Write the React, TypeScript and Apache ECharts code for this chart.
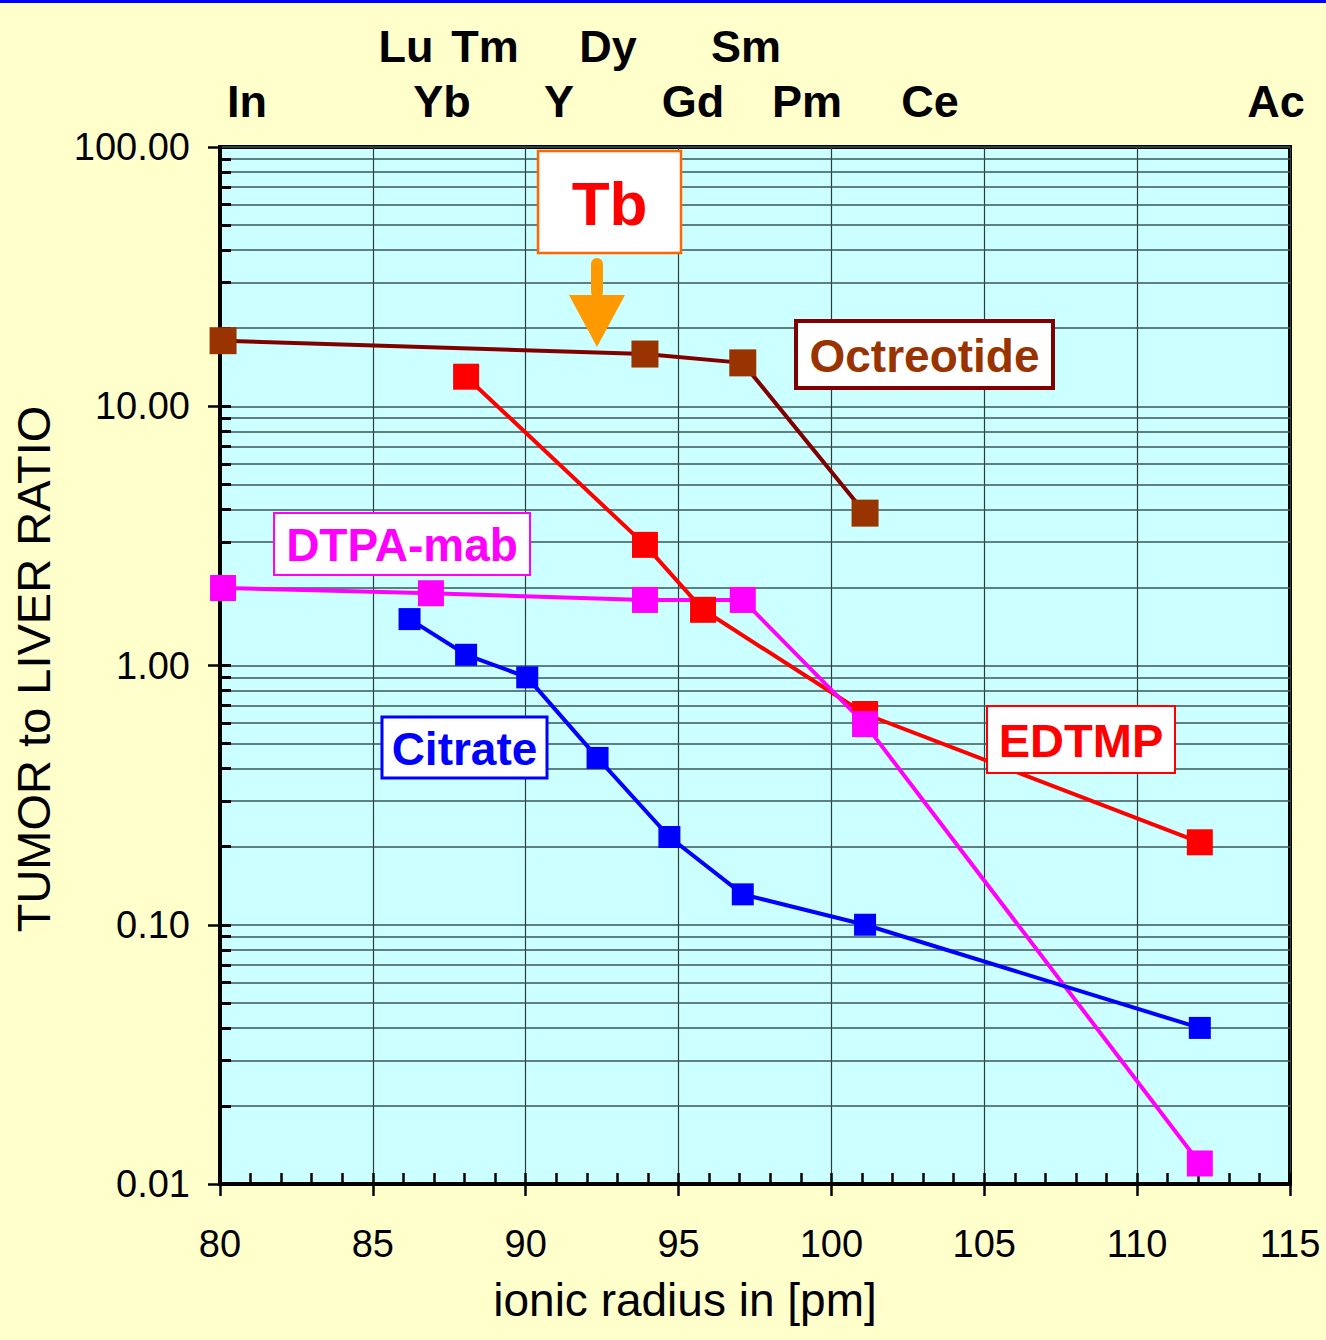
import React, { useEffect, useRef } from 'react';
import * as echarts from 'echarts';

// ---- Data (ionic radius in pm, tumor-to-liver ratio) ----
const octreotideX = [80.1, 93.9, 97.1, 101.1];
const octreotideY = [17.9, 15.9, 14.7, 3.87];

const edtmpX = [88.05, 93.9, 95.8, 101.1, 112.05];
const edtmpY = [13.0, 2.92, 1.64, 0.65, 0.208];

const dtpaX = [80.1, 86.9, 93.9, 97.1, 101.1, 112.05];
const dtpaY = [1.99, 1.9, 1.79, 1.79, 0.594, 0.012];

const citrateX = [86.2, 88.05, 90.05, 92.35, 94.7, 97.1, 101.1, 112.05];
const citrateY = [1.51, 1.1, 0.9, 0.44, 0.218, 0.131, 0.1, 0.04];

const seriesNames = ['Octreotide', 'EDTMP', 'DTPA-mab', 'Citrate'];

// element labels above the plot
const elementsRow1 = ['Lu', 'Tm', 'Dy', 'Sm'];
const elementsRow2 = ['In', 'Yb', 'Y', 'Gd', 'Pm', 'Ce', 'Ac'];

const xAxisTitle = 'ionic radius in [pm]';
const yAxisTitle = 'TUMOR to LIVER RATIO';
const highlightLabel = 'Tb';

// layout (pixel placement of annotations)
const row1Pos = [406, 485, 608, 746];
const row2Pos = [247, 442, 559, 693, 807, 930, 1276];

const FONT = '"Liberation Sans", Arial, Helvetica, sans-serif';

function zip(xs: number[], ys: number[]) {
  return xs.map((x, i) => [x, ys[i]]);
}

// minor log grid values 2..9 per decade
const decades = [0.01, 0.1, 1, 10];
const minorVals: number[] = [];
decades.forEach((d) => {
  for (let m = 2; m <= 9; m++) minorVals.push(Number((m * d).toPrecision(3)));
});
const majorVals = [0.1, 1, 10];

function box(
  x: number,
  y: number,
  w: number,
  h: number,
  text: string,
  border: string,
  color: string,
  bw: number,
  fontSize: number
) {
  return [
    {
      type: 'rect',
      z: 100,
      shape: { x, y, width: w, height: h },
      style: { fill: '#ffffff', stroke: border, lineWidth: bw },
    },
    {
      type: 'text',
      z: 101,
      x: x + w / 2,
      y: y + h / 2 + 1,
      style: {
        text,
        font: `bold ${fontSize}px ${FONT}`,
        fill: color,
        align: 'center',
        verticalAlign: 'middle',
        textAlign: 'center',
        textVerticalAlign: 'middle',
      },
    },
  ];
}

function label(text: string, x: number, y: number) {
  return {
    type: 'text',
    z: 100,
    x,
    y,
    style: {
      text,
      font: `bold 45px ${FONT}`,
      fill: '#000000',
      align: 'center',
      verticalAlign: 'middle',
      textAlign: 'center',
      textVerticalAlign: 'middle',
    },
  };
}

export default function App() {
  const ref = useRef<HTMLDivElement>(null);

  useEffect(() => {
    document.body.style.margin = '0';
    const chart = echarts.init(ref.current as HTMLDivElement, null, { renderer: 'svg' });

    const gridLineStyle = { color: '#3a5656', width: 1.5, type: 'solid' };
    const markLineData: any[] = [];
    minorVals.forEach((v) => markLineData.push({ yAxis: v, lineStyle: gridLineStyle }));
    // inside ticks on the left axis
    [...minorVals, ...majorVals].forEach((v) =>
      markLineData.push([
        { coord: [80, v], lineStyle: { color: '#000', width: 3, type: 'solid' } },
        { coord: [80.36, v] },
      ])
    );

    const lineSeries = (name: string, xs: number[], ys: number[], color: string, extra: any = {}) => ({
      name,
      type: 'line',
      data: zip(xs, ys),
      symbol: 'none',
      z: 3,
      lineStyle: { color, width: 4 },
      ...extra,
    });

    const markerSeries = (name: string, xs: number[], ys: number[], color: string, size: number) => ({
      name,
      type: 'scatter',
      data: zip(xs, ys),
      symbol: 'rect',
      symbolSize: size,
      z: 4,
      itemStyle: { color, opacity: 1 },
    });

    const option: any = {
      animation: false,
      backgroundColor: '#ffffcc',
      grid: {
        left: 220,
        right: 36,
        top: 147,
        bottom: 156,
        show: true,
        backgroundColor: '#ccffff',
        borderColor: '#000000',
        borderWidth: 4,
        containLabel: false,
      },
      xAxis: [
        {
          type: 'value',
          min: 80,
          max: 115,
          interval: 5,
          position: 'bottom',
          axisLine: { show: true, onZero: false, lineStyle: { color: '#000', width: 4 } },
          axisTick: { show: true, inside: true, length: 11, lineStyle: { color: '#000', width: 2.5 } },
          minorTick: { show: true, splitNumber: 5, length: 11, lineStyle: { color: '#000', width: 2.5 } },
          axisLabel: { show: true, fontSize: 38, fontFamily: FONT, color: '#000', margin: 41 },
          splitLine: { show: true, lineStyle: { color: '#2a3c3c', width: 1.2 } },
        },
        {
          type: 'value',
          min: 80,
          max: 115,
          interval: 5,
          position: 'bottom',
          axisLine: { show: false, onZero: false },
          axisTick: { show: true, inside: false, length: 12, lineStyle: { color: '#000', width: 2.5 } },
          axisLabel: { show: false },
          splitLine: { show: false },
        },
      ],
      yAxis: {
        type: 'log',
        logBase: 10,
        min: 0.01,
        max: 100,
        axisLine: { show: true, onZero: false, lineStyle: { color: '#000', width: 4 } },
        axisTick: { show: true, inside: false, length: 12, lineStyle: { color: '#000', width: 2.5 } },
        axisLabel: {
          fontSize: 38,
          fontFamily: FONT,
          color: '#000',
          margin: 30,
          formatter: (v: number) => Number(v).toFixed(2),
        },
        splitLine: { show: true, lineStyle: gridLineStyle },
      },
      series: [
        lineSeries(seriesNames[0], octreotideX, octreotideY, '#800000', {
          markLine: {
            silent: true,
            symbol: ['none', 'none'],
            label: { show: false },
            data: markLineData,
            z: 1,
          },
        }),
        lineSeries(seriesNames[1], edtmpX, edtmpY, '#ff0000'),
        lineSeries(seriesNames[2], dtpaX, dtpaY, '#ff00ff'),
        lineSeries(seriesNames[3], citrateX, citrateY, '#0000ff'),
        markerSeries(seriesNames[0], octreotideX, octreotideY, '#993300', 27),
        markerSeries(seriesNames[3], citrateX, citrateY, '#0000ff', 22),
        markerSeries(seriesNames[1], edtmpX, edtmpY, '#ff0000', 26),
        markerSeries(seriesNames[2], dtpaX, dtpaY, '#ff00ff', 26),
      ],
      graphic: [
        { type: 'rect', z: 100, shape: { x: 0, y: 0, width: 1326, height: 3 }, style: { fill: '#0000ff' } },
        ...elementsRow1.map((t, i) => label(t, row1Pos[i], 46)),
        ...elementsRow2.map((t, i) => label(t, row2Pos[i], 101)),
        ...box(538, 151, 143, 102, highlightLabel, '#ff6600', '#ff0000', 2.5, 62),
        {
          type: 'rect',
          z: 100,
          shape: { x: 591, y: 258, width: 12, height: 40, r: 6 },
          style: { fill: '#ff9900' },
        },
        {
          type: 'polygon',
          z: 100,
          shape: { points: [[569, 295], [625, 295], [597, 347]] },
          style: { fill: '#ff9900' },
        },
        ...box(796, 321, 257, 67, seriesNames[0], '#800000', '#993300', 4, 46),
        ...box(274, 513, 256, 62, seriesNames[2], '#ff00ff', '#ff00ff', 2, 46),
        ...box(382, 717, 165, 61, seriesNames[3], '#0000ff', '#0000ff', 3, 46),
        ...box(987, 706, 188, 67, seriesNames[1], '#ff0000', '#ff0000', 2, 47),
        {
          type: 'text',
          z: 100,
          x: 685,
          y: 1300,
          style: {
            text: xAxisTitle,
            font: `46px ${FONT}`,
            fill: '#000',
            align: 'center',
            verticalAlign: 'middle',
            textAlign: 'center',
            textVerticalAlign: 'middle',
          },
        },
        {
          type: 'text',
          z: 100,
          x: 33,
          y: 669,
          rotation: Math.PI / 2,
          style: {
            text: yAxisTitle,
            font: `47px ${FONT}`,
            fill: '#000',
            align: 'center',
            verticalAlign: 'middle',
            textAlign: 'center',
            textVerticalAlign: 'middle',
          },
        },
      ],
    };

    chart.setOption(option);
    return () => chart.dispose();
  }, []);

  return <div ref={ref} style={{ width: 1326, height: 1340 }} />;
}
